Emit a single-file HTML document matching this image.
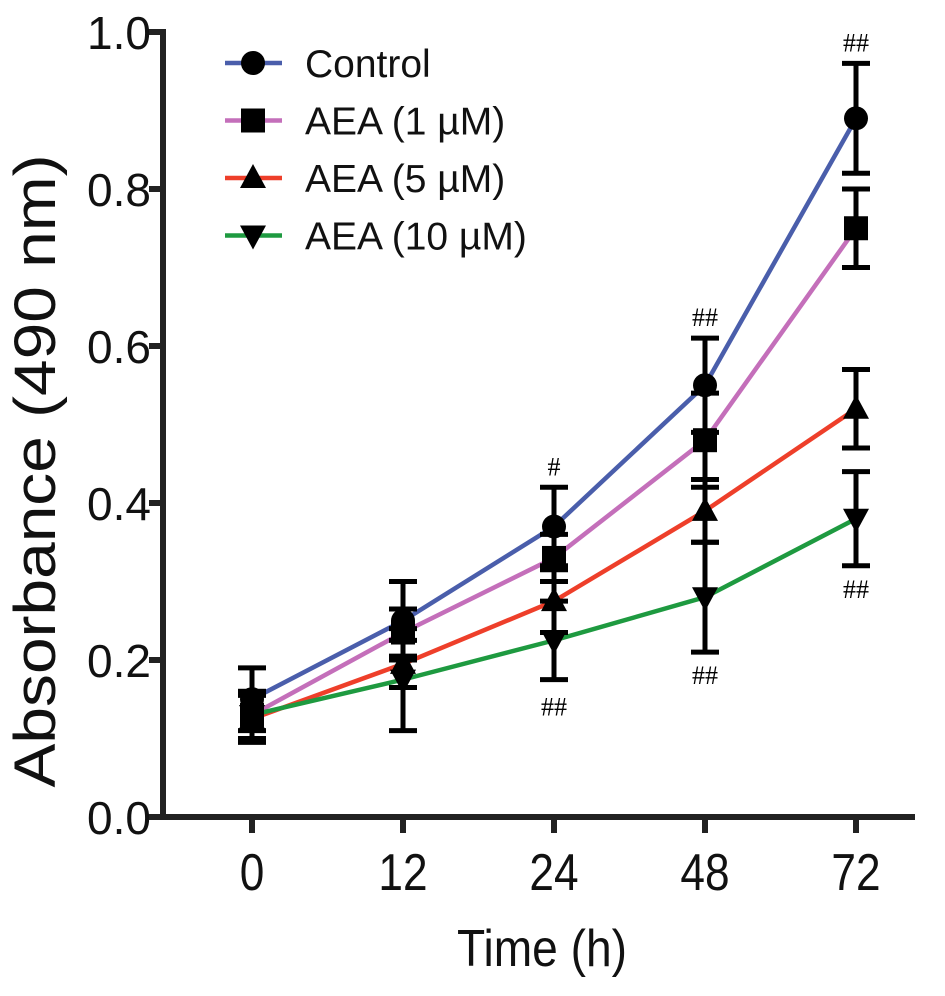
<!DOCTYPE html>
<html><head><meta charset="utf-8"><style>
html,body{margin:0;padding:0;background:#fff;}
svg{display:block;font-family:"Liberation Sans",Arial,sans-serif;}
</style></head><body>
<svg id="chart" width="945" height="996" viewBox="0 0 945 996" xmlns="http://www.w3.org/2000/svg">
<g id="axes"></g>
<g id="series"></g>
<g id="legend"></g>
<text x="457" y="966" font-size="52" textLength="170" lengthAdjust="spacingAndGlyphs" fill="#111">Time (h)</text>
<text x="0" y="0" transform="translate(55,471) rotate(-90)" font-size="58" textLength="633" lengthAdjust="spacingAndGlyphs" text-anchor="middle" fill="#111">Absorbance (490 nm)</text>
</svg>
<script>
const categories = ["0","12","24","48","72"];
const yTicks = [0,0.2,0.4,0.6,0.8,1.0];
const yTickLabels = ["0.0","0.2","0.4","0.6","0.8","1.0"];
const seriesNames = ["Control","AEA (1 µM)","AEA (5 µM)","AEA (10 µM)"];
const controlValues = [0.15,0.25,0.37,0.55,0.89];
const controlErrors = [0.04,0.05,0.05,0.06,0.07];
const aea1Values = [0.13,0.235,0.33,0.48,0.75];
const aea1Errors = [0.03,0.03,0.03,0.06,0.05];
const aea5Values = [0.125,0.195,0.275,0.39,0.52];
const aea5Errors = [0.03,0.03,0.04,0.04,0.05];
const aea10Values = [0.13,0.175,0.225,0.28,0.38];
const aea10Errors = [0.03,0.065,0.05,0.07,0.06];
const annotations = [
  {cat:2, value:0.42, text:"#", below:false},
  {cat:3, value:0.61, text:"##", below:false},
  {cat:4, value:0.96, text:"##", below:false},
  {cat:2, value:0.17, text:"##", below:true},
  {cat:3, value:0.21, text:"##", below:true},
  {cat:4, value:0.32, text:"##", below:true}
];

const NS="http://www.w3.org/2000/svg";
const X0=163, XEND=915, Y0=817, YTOP=32;
function xPos(i){return 252 + i*151;}
function yPos(v){return Y0 - (Y0-YTOP)*v/1.0;}
function mk(tag,parent){const e=document.createElementNS(NS,tag);parent.appendChild(e);return e;}

const axes=document.getElementById('axes');
let yl=mk('line',axes);


yl.setAttribute('x1',X0);yl.setAttribute('x2',X0);yl.setAttribute('y1',YTOP-3);yl.setAttribute('y2',Y0+3);
yl.setAttribute('stroke','#222');yl.setAttribute('stroke-width','6');
let xl=mk('line',axes);


xl.setAttribute('x1',X0-3);xl.setAttribute('x2',XEND);xl.setAttribute('y1',Y0);xl.setAttribute('y2',Y0);
xl.setAttribute('stroke','#222');xl.setAttribute('stroke-width','6');
yTicks.forEach((v,i)=>{
  const t=mk('line',axes);
  
  
  t.setAttribute('x1',X0-14);t.setAttribute('x2',X0);t.setAttribute('y1',yPos(v));t.setAttribute('y2',yPos(v));
  t.setAttribute('stroke','#222');t.setAttribute('stroke-width','6');
  const l=mk('text',axes);
  
  
  l.setAttribute('x',X0-12);l.setAttribute('y',yPos(v)+17);l.setAttribute('font-size','46');
  l.setAttribute('text-anchor','end');l.setAttribute('fill','#111');
  l.textContent=yTickLabels[i];
});
categories.forEach((c,i)=>{
  const t=mk('line',axes);
  
  
  t.setAttribute('x1',xPos(i));t.setAttribute('x2',xPos(i));t.setAttribute('y1',Y0);t.setAttribute('y2',Y0+16);
  t.setAttribute('stroke','#222');t.setAttribute('stroke-width','6');
  const l=mk('text',axes);
  
  
  l.setAttribute('transform','translate('+xPos(i)+',890) scale(0.85,1)');
  l.setAttribute('font-size','52');
  l.setAttribute('text-anchor','middle');l.setAttribute('fill','#111');
  l.textContent=c;
});

const colors=["#4a5eab","#c46fba","#ee3f2a","#1e9a40"];
const shapes=["circle","square","triangle","invtriangle"];
const allValues=[controlValues,aea1Values,aea5Values,aea10Values];
const allErrors=[controlErrors,aea1Errors,aea5Errors,aea10Errors];

function marker(parent,shape,cx,cy){
  let m;
  if(shape==="circle"){m=mk('circle',parent);m.setAttribute('cx',cx);m.setAttribute('cy',cy);m.setAttribute('r',12);}
  else if(shape==="square"){m=mk('rect',parent);m.setAttribute('x',cx-12);m.setAttribute('y',cy-12);m.setAttribute('width',24);m.setAttribute('height',24);}
  else if(shape==="triangle"){m=mk('polygon',parent);m.setAttribute('points',`${cx},${cy-14} ${cx-13},${cy+10} ${cx+13},${cy+10}`);}
  else {m=mk('polygon',parent);m.setAttribute('points',`${cx},${cy+14} ${cx-13},${cy-10} ${cx+13},${cy-10}`);}
  m.setAttribute('fill','#000');
  return m;
}

const sg=document.getElementById('series');
allValues.forEach((vals,s)=>{
  const p=mk('polyline',sg);
  
  
  p.setAttribute('points',vals.map((v,i)=>xPos(i)+','+yPos(v)).join(' '));
  p.setAttribute('fill','none');p.setAttribute('stroke',colors[s]);p.setAttribute('stroke-width','4.5');
});
allValues.forEach((vals,s)=>{
  vals.forEach((v,i)=>{
    const e=allErrors[s][i], x=xPos(i);
    const g=mk('g',sg);
    
    
    const vl=mk('line',g);
    vl.setAttribute('x1',x);vl.setAttribute('x2',x);vl.setAttribute('y1',yPos(v+e));vl.setAttribute('y2',yPos(v-e));
    vl.setAttribute('stroke','#000');vl.setAttribute('stroke-width','5');
    [v+e,v-e].forEach(w=>{
      const c=mk('line',g);
      c.setAttribute('x1',x-14);c.setAttribute('x2',x+14);c.setAttribute('y1',yPos(w));c.setAttribute('y2',yPos(w));
      c.setAttribute('stroke','#000');c.setAttribute('stroke-width','5');
    });
  });
});
allValues.forEach((vals,s)=>{
  vals.forEach((v,i)=>{
    const m=marker(sg,shapes[s],xPos(i),yPos(v));
    
    
  });
});
annotations.forEach(a=>{
  const t=mk('text',sg);
  
  
  t.setAttribute('x',xPos(a.cat));
  t.setAttribute('y',a.below? yPos(a.value)+32 : yPos(a.value)-12);
  t.setAttribute('font-size','26');t.setAttribute('text-anchor','middle');
  t.setAttribute('font-family','"Liberation Serif",serif');t.setAttribute('fill','#000');
  t.textContent=a.text;
});

const lg=document.getElementById('legend');
seriesNames.forEach((n,s)=>{
  const y=63+s*57.5;
  const g=mk('g',lg);
  
  
  const l=mk('line',g);
  l.setAttribute('x1',225);l.setAttribute('x2',282);l.setAttribute('y1',y);l.setAttribute('y2',y);
  l.setAttribute('stroke',colors[s]);l.setAttribute('stroke-width','4.5');
  marker(g,shapes[s],253,y);
  const t=mk('text',g);
  t.setAttribute('x',305);t.setAttribute('y',y+14);t.setAttribute('font-size','39');t.setAttribute('fill','#111');
  t.textContent=n;
});
</script>
</body></html>
